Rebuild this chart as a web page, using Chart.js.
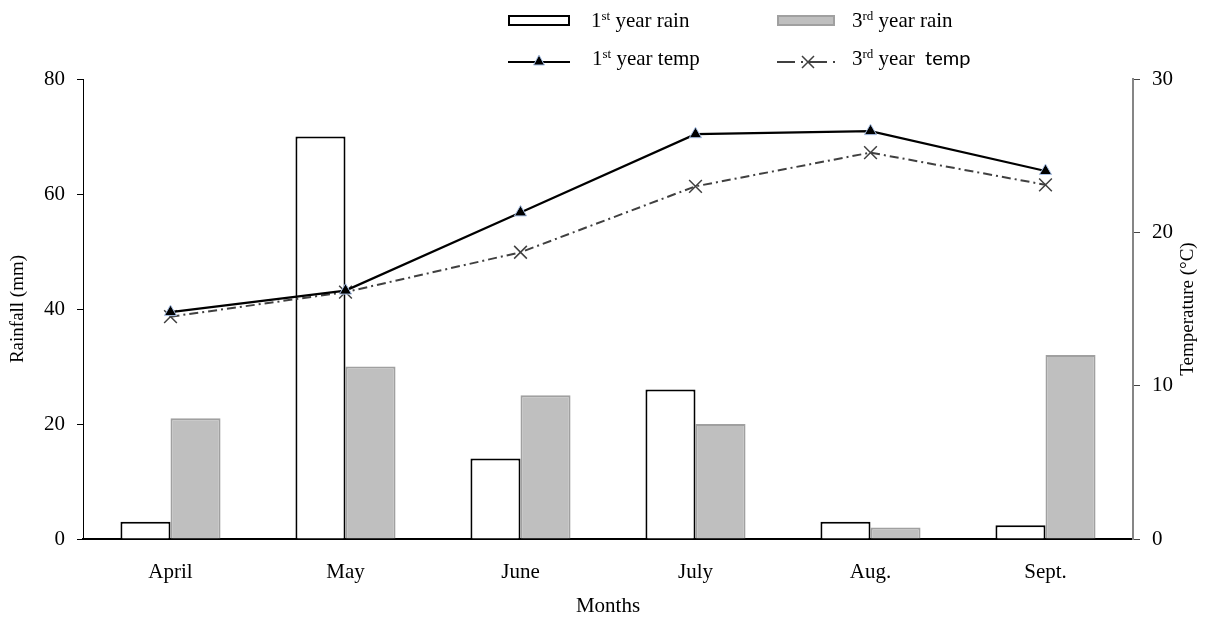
<!DOCTYPE html>
<html>
<head>
<meta charset="utf-8">
<script src="https://cdn.jsdelivr.net/npm/chart.js@4"></script>
<style>
  html, body { margin: 0; padding: 0; background: #fff; }
  #wrap { width: 1208px; height: 623px; }
</style>
</head>
<body>
<div id="wrap"><canvas id="climateChart" width="1208" height="623"></canvas></div>
<script>
const months = ['April', 'May', 'June', 'July', 'Aug.', 'Sept.'];
const rainYear1 = [3, 70, 14, 26, 3, 2.4];
const rainYear3 = [21, 30, 25, 20, 2, 32];
const tempYear1 = [14.8, 16.2, 21.3, 26.4, 26.6, 24.0];
const tempYear3 = [14.5, 16.1, 18.7, 23.0, 25.2, 23.1];
const rainTicks = [0, 20, 40, 60, 80];
const tempTicks = [0, 10, 20, 30];

const SERIF = '"Liberation Serif", "Times New Roman", serif';
const SANS = 'Lato, "Open Sans", sans-serif';

const Colors = {
  ink: '#000000',
  rain3Fill: '#bfbfbf',
  rain3Edge: '#a0a0a0',
  temp3: '#404040',
  markerEdge: '#a9c1e6',
  rightAxis: '#868686'
};

const DASH_DOT = [9, 4, 2, 4];

// draws "1st year rain" style text with a raised suffix
function drawSupText(ctx, x, y, parts) {
  let cx = x;
  parts.forEach(p => {
    ctx.font = `${p.size}px ${p.family || SERIF}`;
    ctx.fillText(p.text, cx, y - (p.rise || 0));
    cx += ctx.measureText(p.text).width;
  });
}

function drawTriangle(ctx, x, y) {
  ctx.save();
  ctx.beginPath();
  ctx.moveTo(x, y - 6);
  ctx.lineTo(x + 5.5, y + 4);
  ctx.lineTo(x - 5.5, y + 4);
  ctx.closePath();
  ctx.fillStyle = Colors.ink;
  ctx.strokeStyle = Colors.markerEdge;
  ctx.lineWidth = 1;
  ctx.fill();
  ctx.stroke();
  ctx.restore();
}

const legendPlugin = {
  id: 'paperLegend',
  afterDraw(chart) {
    const ctx = chart.ctx;
    ctx.save();
    ctx.textBaseline = 'alphabetic';

    // row 1: rain boxes
    ctx.fillStyle = '#fff';
    ctx.strokeStyle = Colors.ink;
    ctx.lineWidth = 2;
    ctx.fillRect(509, 16, 60, 9);
    ctx.strokeRect(509, 16, 60, 9);
    ctx.fillStyle = Colors.rain3Fill;
    ctx.strokeStyle = Colors.rain3Edge;
    ctx.fillRect(778, 16, 56, 9);
    ctx.strokeRect(778, 16, 56, 9);

    // row 2: temp lines
    ctx.strokeStyle = Colors.ink;
    ctx.lineWidth = 2;
    ctx.beginPath();
    ctx.moveTo(508, 62);
    ctx.lineTo(570, 62);
    ctx.stroke();
    drawTriangle(ctx, 539, 61);

    ctx.strokeStyle = Colors.temp3;
    ctx.setLineDash([18, 6, 2, 6]);
    ctx.beginPath();
    ctx.moveTo(777, 62);
    ctx.lineTo(840, 62);
    ctx.stroke();
    ctx.setLineDash([]);
    ctx.lineWidth = 1.5;
    ctx.beginPath();
    ctx.moveTo(802, 56); ctx.lineTo(814, 68);
    ctx.moveTo(814, 56); ctx.lineTo(802, 68);
    ctx.stroke();

    ctx.fillStyle = Colors.ink;
    drawSupText(ctx, 591, 27, [
      { text: '1', size: 21 }, { text: 'st', size: 13, rise: 7 }, { text: ' year rain', size: 21 }
    ]);
    drawSupText(ctx, 852, 27, [
      { text: '3', size: 21 }, { text: 'rd', size: 13, rise: 7 }, { text: ' year rain', size: 21 }
    ]);
    drawSupText(ctx, 592, 65, [
      { text: '1', size: 21 }, { text: 'st', size: 13, rise: 7 }, { text: ' year temp', size: 21 }
    ]);
    drawSupText(ctx, 852, 65, [
      { text: '3', size: 21 }, { text: 'rd', size: 13, rise: 7 }, { text: ' year ', size: 21 },
      { text: ' temp', size: 20, family: SANS }
    ]);

    // right axis title, reads bottom to top
    const area = chart.chartArea;
    ctx.translate(1188, (area.top + area.bottom) / 2);
    ctx.rotate(-Math.PI / 2);
    ctx.textAlign = 'center';
    ctx.textBaseline = 'middle';
    ctx.font = `19px ${SERIF}`;
    ctx.fillText('Temperature (°C)', 0, 0);
    ctx.restore();
  }
};

const chartConfig = {
  type: 'bar',
  data: {
    labels: months,
    datasets: [
      {
        type: 'line',
        label: '1st year temp',
        data: tempYear1,
        yAxisID: 'yTemp',
        order: 0,
        borderColor: Colors.ink,
        borderWidth: 2.2,
        pointStyle: 'triangle',
        pointRadius: 7,
        pointBackgroundColor: Colors.ink,
        pointBorderColor: Colors.markerEdge,
        pointBorderWidth: 1,
        tension: 0,
        fill: false
      },
      {
        type: 'line',
        label: '3rd year temp',
        data: tempYear3,
        yAxisID: 'yTemp',
        order: 0,
        borderColor: Colors.temp3,
        borderWidth: 2,
        borderDash: DASH_DOT,
        pointStyle: 'crossRot',
        pointRadius: 9,
        pointBorderColor: Colors.temp3,
        pointBorderWidth: 1.5,
        tension: 0,
        fill: false
      },
      {
        label: '1st year rain',
        data: rainYear1,
        yAxisID: 'yRain',
        order: 1,
        backgroundColor: '#ffffff',
        borderColor: Colors.ink,
        borderWidth: 2,
        categoryPercentage: 0.572,
        barPercentage: 1
      },
      {
        label: '3rd year rain',
        data: rainYear3,
        yAxisID: 'yRain',
        order: 1,
        backgroundColor: Colors.rain3Fill,
        borderColor: Colors.rain3Edge,
        borderWidth: 2,
        categoryPercentage: 0.572,
        barPercentage: 1
      }
    ]
  },
  options: {
    responsive: false,
    animation: false,
    layout: { padding: { top: 79, left: 0, right: 0, bottom: 0 } },
    plugins: {
      legend: { display: false },
      title: { display: false },
      tooltip: { enabled: false }
    },
    scales: {
      x: {
        afterFit(scale) { scale.height = 84; },
        grid: { display: false },
        border: { display: true, color: Colors.ink, width: 2 },
        ticks: { color: Colors.ink, padding: 13, font: { family: SERIF, size: 21 } },
        title: {
          display: true,
          text: 'Months',
          color: Colors.ink,
          padding: { top: 4, bottom: 4 },
          font: { family: SERIF, size: 21 }
        }
      },
      yRain: {
        position: 'left',
        min: 0,
        max: 80,
        afterFit(scale) { scale.width = 83; },
        afterBuildTicks(scale) { scale.ticks = rainTicks.map(v => ({ value: v })); },
        grid: { display: true, drawOnChartArea: false, drawTicks: true, tickLength: 6, color: Colors.ink },
        border: { display: true, color: Colors.ink, width: 1 },
        ticks: { color: Colors.ink, padding: 12, font: { family: SERIF, size: 21 } },
        title: {
          display: true,
          text: 'Rainfall (mm)',
          color: Colors.ink,
          padding: { top: 7, bottom: 0 },
          font: { family: SERIF, size: 19 }
        }
      },
      yTemp: {
        position: 'right',
        min: 0,
        max: 30,
        afterFit(scale) { scale.width = 75; },
        afterBuildTicks(scale) { scale.ticks = tempTicks.map(v => ({ value: v })); },
        grid: { display: true, drawOnChartArea: false, drawTicks: true, tickLength: 7, color: '#444' },
        border: { display: true, color: Colors.rightAxis, width: 2 },
        ticks: { color: Colors.ink, padding: 12, font: { family: SERIF, size: 21 } }
      }
    }
  },
  plugins: [legendPlugin]
};

new Chart(document.getElementById('climateChart'), chartConfig);
</script>
</body>
</html>
